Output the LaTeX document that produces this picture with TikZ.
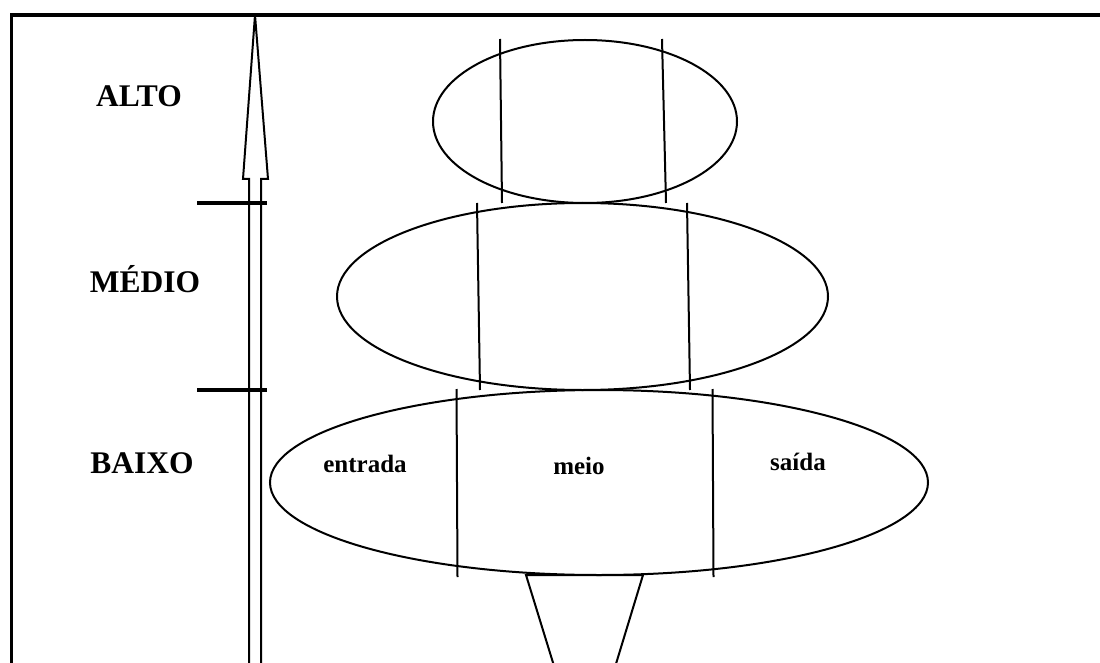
\documentclass[tikz,border=0pt]{standalone}
\usepackage{fontspec}
\setmainfont{Liberation Serif}
\begin{document}
\begin{tikzpicture}[x=1pt,y=-1pt,
  line/.style={line width=2pt,black},
  lvl/.style={font=\bfseries\fontsize{31.5}{36}\selectfont,inner sep=0pt},
  part/.style={font=\bfseries\fontsize{25}{30}\selectfont,inner sep=0pt},
  tick/.style={line width=3.6pt,black}]
\useasboundingbox (0,0) rectangle (1100,663);
\clip (0,0) rectangle (1100,663);
% frame
\draw[line width=3.4pt] (11.5,700) -- (11.5,15) -- (1120,15);
% arrow
\coordinate (a0) at (249,700);
\coordinate (a1) at (249,179);
\coordinate (a2) at (243,179);
\coordinate (tip) at (255,15);
\coordinate (a4) at (268,179);
\coordinate (a5) at (261,179);
\coordinate (a6) at (261,700);
\draw[line,line join=miter] (a0) -- (a1) -- (a2) -- (tip) -- (a4) -- (a5) -- (a6);
% ticks
\coordinate (t1a) at (197,203); \coordinate (t1b) at (267,203);
\coordinate (t2a) at (197,390); \coordinate (t2b) at (267,390);
\draw[tick] (t1a) -- (t1b);
\draw[tick] (t2a) -- (t2b);
% ellipses
\draw[line] (585,121.5) ellipse [x radius=152, y radius=81.5];
\draw[line] (582.5,296.5) ellipse [x radius=245.5, y radius=93.5];
\draw[line] (599,482.5) ellipse [x radius=329, y radius=92.5];
% vertical lines
\coordinate (v1a) at (500,39);  \coordinate (v1b) at (502,203);
\coordinate (v2a) at (662,39);  \coordinate (v2b) at (666,203);
\coordinate (v3a) at (477,203); \coordinate (v3b) at (480,390);
\coordinate (v4a) at (687,203); \coordinate (v4b) at (690,390);
\coordinate (v5a) at (456.5,389); \coordinate (v5b) at (457.5,577);
\coordinate (v6a) at (712.5,389); \coordinate (v6b) at (713.5,577);
\draw[line] (v1a) -- (v1b);
\draw[line] (v2a) -- (v2b);
\draw[line] (v3a) -- (v3b);
\draw[line] (v4a) -- (v4b);
\draw[line] (v5a) -- (v5b);
\draw[line] (v6a) -- (v6b);
% funnel
\coordinate (f1) at (526,575); \coordinate (f2) at (643,575);
\coordinate (f3) at (564.5,700); \coordinate (f4) at (605,700);
\draw[line] (f3) -- (f1) -- (f2) -- (f4);
% labels
\node[lvl] (alto) at (139,96) {ALTO};
\node[lvl] (medio) at (145,279) {MÉDIO};
\node[lvl] (baixo) at (142,463) {BAIXO};
\node[part] (entrada) at (365,464) {entrada};
\node[part] (meio) at (579,466) {meio};
\node[part] (saida) at (798,462) {saída};
\end{tikzpicture}
\end{document}
